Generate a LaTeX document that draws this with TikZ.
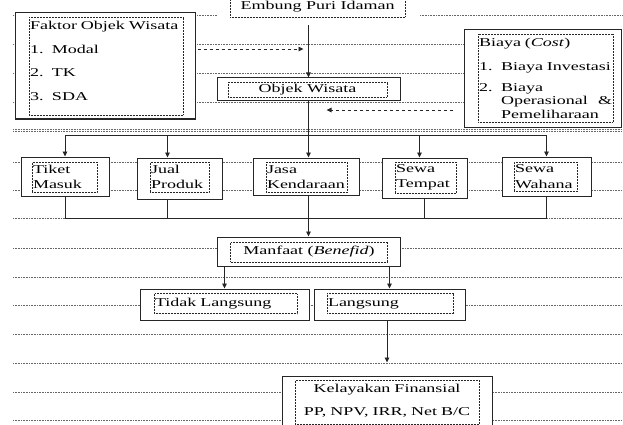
\documentclass[tikz,border=0pt]{standalone}
\usepackage{fontspec}
\setmainfont{Liberation Serif}[FakeStretch=1.5]
\usetikzlibrary{arrows.meta}
\definecolor{boxline}{HTML}{262626}
\definecolor{ruling}{HTML}{666666}

\begin{document}
\begin{tikzpicture}[
  x=1pt, y=-1pt,
  font=\fontsize{12}{13.5}\selectfont,
  bgline/.style={densely dotted, line width=0.6pt, ruling},
  outerbox/.style={draw=boxline, fill=white, line width=1pt, inner sep=0pt},
  innerbox/.style={draw=boxline, densely dotted, line width=0.5pt, inner sep=1pt},
  conn/.style={line width=0.9pt, boxline},
  flow/.style={conn, -{Triangle[length=5pt,width=4.5pt]}},
  dashflow/.style={flow, dashed}
]
  \clip (0,0) rectangle (623,425);
  \draw[bgline] (13,15) -- (217,15) (420,15) -- (623,15);
  \foreach \y in {44,73,102,129,131.5,162,190,218,248,277,305,334,363,392,420}
    \draw[bgline] (13,\y) -- (623,\y);

  \node[innerbox, fill=white, minimum width=175pt, minimum height=20pt] (embung) at (317.5,7) {Embung Puri Idaman};

  \node[outerbox, minimum width=180pt, minimum height=106pt] (faktor) at (105,66) {};
  \node[innerbox, text width=152pt, minimum height=98pt, align=left] (faktorlist) at (106,66) {
    Faktor Objek Wisata\\[10pt]
    \makebox[22pt][l]{1.}Modal\\[10pt]
    \makebox[22pt][l]{2.}TK\\[10pt]
    \makebox[22pt][l]{3.}SDA\\[-3.5pt]\mbox{}
  };

  \node[outerbox, minimum width=157pt, minimum height=97pt] (biaya) at (542.5,78.5) {};
  \node[innerbox, text width=133pt, minimum height=88pt, align=left] (biayalist) at (545.5,78) {
    Biaya (\textit{Cost})\\[10.5pt]
    \makebox[22pt][l]{1.}\mbox{Biaya Investasi}\\[7.5pt]
    \makebox[22pt][l]{2.}Biaya\\
    \hspace*{22pt}\makebox[111pt][l]{Operasional\hfill\&}\\
    \hspace*{22pt}Pemeliharaan
  };

  \node[outerbox, minimum width=183pt, minimum height=23pt] (objek) at (308.5,89.5) {};
  \node[innerbox, minimum width=159pt, minimum height=15pt, inner sep=0pt] (objektxt) at (307.5,89.5) {Objek Wisata};

  \node[outerbox, minimum width=88pt, minimum height=39pt] (tiket) at (65,176.5) {};
  \node[innerbox, text width=63pt, minimum height=30pt, align=left] (tikettxt) at (64.5,177) {Tiket\\[2pt]Masuk};
  \node[outerbox, minimum width=85pt, minimum height=41pt] (jual) at (179.5,178.5) {};
  \node[innerbox, text width=57pt, minimum height=30pt, align=left] (jualtxt) at (179.5,177) {Jual\\[2pt]Produk};
  \node[outerbox, minimum width=106pt, minimum height=37pt] (jasa) at (306,176.5) {};
  \node[innerbox, text width=79pt, minimum height=30pt, align=left] (jasatxt) at (306.5,177) {Jasa\\[2pt]Kendaraan};
  \node[outerbox, minimum width=85pt, minimum height=40pt] (tempat) at (424.5,178) {};
  \node[innerbox, text width=59pt, minimum height=31pt, align=left] (tempattxt) at (425.5,177.5) {Sewa\\[2pt]Tempat};
  \node[outerbox, minimum width=89pt, minimum height=39pt] (wahana) at (546.5,176.5) {};
  \node[innerbox, text width=61pt, minimum height=29pt, align=left] (wahanatxt) at (545.5,176.5) {Sewa\\[2pt]Wahana};

  \node[outerbox, minimum width=183pt, minimum height=29pt] (manfaat) at (308.5,251.5) {};
  \node[innerbox, minimum width=157pt, minimum height=20pt, inner sep=0pt] (manfaattxt) at (309,252) {Manfaat (\textit{Benefid})};

  \node[outerbox, minimum width=169pt, minimum height=31pt] (tidak) at (224.5,304.5) {};
  \node[innerbox, text width=141pt, minimum height=20pt, align=left] (tidaktxt) at (225.5,303.5) {Tidak Langsung};
  \node[outerbox, minimum width=151pt, minimum height=31pt] (langsung) at (389.5,304.5) {};
  \node[innerbox, text width=124pt, minimum height=20pt, align=left] (langsungtxt) at (390,303.5) {Langsung};

  \node[outerbox, minimum width=210pt, minimum height=54pt] (kelayakan) at (387,403) {};
  \node[innerbox, text width=182pt, minimum height=44pt, align=center] (kelayakantxt) at (387,402) {
    Kelayakan Finansial\\[9.5pt]
    PP, NPV, IRR, Net B/C\\[-8.5pt]\mbox{}
  };

  \coordinate (split) at (308.5,135);
  \coordinate (merge) at (308.5,218);

  \draw[flow] ([yshift=-8pt]embung.south -| objek.north) -- (objek.north);
  \draw[dashflow, shorten <=2pt, shorten >=5pt] ([yshift=17pt]faktor.east) -- ([yshift=17pt]faktor.east -| objek.north);
  \draw[dashflow, shorten <=11pt, shorten >=18pt] ([yshift=-31.5pt]biaya.west) -- ([yshift=-31.5pt]biaya.west -| objek.north);

  \draw[flow] (objek.south) -- (objek.south |- jasa.north);
  \draw[conn] (tiket.north |- split) -- (wahana.north |- split);
  \draw[flow] (tiket.north |- split) -- (tiket.north);
  \draw[flow] ([xshift=-12pt]jual.north |- split) -- ([xshift=-12pt]jual.north);
  \draw[flow] ([xshift=-5pt]tempat.north |- split) -- ([xshift=-5pt]tempat.north);
  \draw[flow] (wahana.north |- split) -- (wahana.north);

  \draw[conn] (tiket.south) -- (tiket.south |- merge) -- (wahana.south |- merge) -- (wahana.south);
  \draw[conn] ([xshift=-12pt]jual.south) -- ([xshift=-12pt]jual.south |- merge);
  \draw[conn] (tempat.south) -- (tempat.south |- merge);
  \draw[flow] (objek.south |- jasa.south) -- (manfaat.north);

  \draw[flow] (manfaat.south -| tidak.north) -- (tidak.north);
  \draw[flow] (manfaat.south -| langsung.north) -- (langsung.north);
  \draw[flow] (langsung.south -| kelayakan.north) -- ([yshift=13pt]kelayakan.north);
\end{tikzpicture}
\end{document}
